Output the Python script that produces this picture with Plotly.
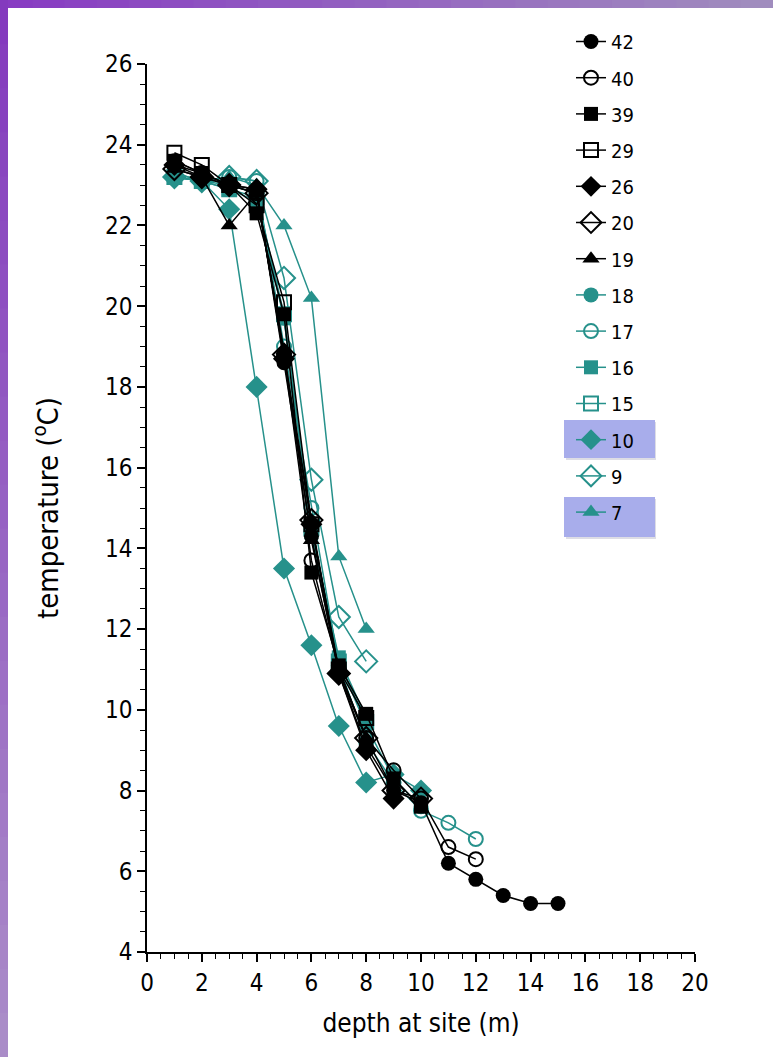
import plotly.graph_objects as go

# ---------------- data ----------------
names = ["42", "40", "39", "29", "26", "20", "19", "18", "17", "16", "15", "10", "9", "7"]

d42 = [1, 2, 3, 4, 5, 6, 7, 8, 9, 10, 11, 12, 13, 14, 15]
t42 = [23.6, 23.3, 23.0, 22.9, 18.6, 14.3, 10.9, 9.1, 8.0, 7.7, 6.2, 5.8, 5.4, 5.2, 5.2]
d40 = [1, 2, 3, 4, 5, 6, 7, 8, 9, 10, 11, 12]
t40 = [23.5, 23.3, 23.0, 22.8, 18.8, 13.7, 11.0, 9.3, 8.5, 7.8, 6.6, 6.3]
d39 = [1, 2, 3, 4, 5, 6, 7, 8, 9, 10]
t39 = [23.6, 23.3, 23.0, 22.3, 19.8, 13.4, 11.1, 9.9, 8.3, 7.6]
d29 = [1, 2, 3, 4, 5, 6, 7, 8]
t29 = [23.8, 23.5, 23.0, 22.5, 20.1, 14.6, 11.0, 9.8]
d26 = [1, 2, 3, 4, 5, 6, 7, 8, 9]
t26 = [23.5, 23.2, 23.0, 22.9, 18.7, 14.6, 10.9, 9.0, 7.8]
d20 = [1, 2, 3, 4, 5, 6, 7, 8, 9, 10]
t20 = [23.4, 23.2, 23.0, 22.8, 18.8, 14.7, 10.9, 9.3, 8.0, 7.8]
d19 = [1, 2, 3, 4, 5, 6, 7, 8]
t19 = [23.4, 23.2, 22.0, 22.8, 18.9, 14.2, 11.0, 9.3]
d18 = [1, 2, 3, 4, 5, 6, 7, 8, 9, 10]
t18 = [23.3, 23.1, 23.0, 22.8, 19.7, 14.4, 11.2, 9.6, 8.3, 7.6]
d17 = [1, 2, 3, 4, 5, 6, 7, 8, 9, 10, 11, 12]
t17 = [23.3, 23.1, 23.2, 23.1, 19.0, 15.0, 11.1, 9.2, 8.2, 7.5, 7.2, 6.8]
d16 = [1, 2, 3, 4, 5, 6, 7, 8]
t16 = [23.2, 23.1, 22.9, 22.6, 19.7, 14.4, 11.3, 9.8]
d15 = [1, 2, 3, 4, 5, 6, 7, 8]
t15 = [23.2, 23.1, 22.9, 22.7, 19.8, 14.5, 11.2, 9.7]
d10 = [1, 2, 3, 4, 5, 6, 7, 8, 9, 10]
t10 = [23.2, 23.1, 22.4, 18.0, 13.5, 11.6, 9.6, 8.2, 8.4, 8.0]
d9 = [1, 2, 3, 4, 5, 6, 7, 8]
t9 = [23.2, 23.1, 23.2, 23.1, 20.7, 15.7, 12.3, 11.2]
d7 = [1, 2, 3, 4, 5, 6, 7, 8]
t7 = [23.2, 23.1, 23.2, 23.0, 22.0, 20.2, 13.8, 12.0]

depths = [d42, d40, d39, d29, d26, d20, d19, d18, d17, d16, d15, d10, d9, d7]
temps = [t42, t40, t39, t29, t26, t20, t19, t18, t17, t16, t15, t10, t9, t7]

x_ticks = list(range(0, 21, 2))
y_ticks = list(range(4, 27, 2))

# ---------------- styles ----------------
BLACK = "#000000"
TEAL = "#26918b"
symbols = ["circle", "circle-open", "square", "square-open", "diamond", "diamond-open", "triangle-up"] * 2
colors = [BLACK] * 7 + [TEAL] * 7
sizes = {"circle": 15, "circle-open": 14, "square": 14, "square-open": 14,
         "diamond": 17, "diamond-open": 17, "triangle-up": 15}
FONT = "Liberation Sans Narrow, DejaVu Sans Condensed, Liberation Sans, Arial, sans-serif"

traces = []
for i in range(len(names)):
    sym = symbols[i]
    traces.append(go.Scatter(
        x=depths[i], y=temps[i], name=names[i], mode="lines+markers",
        legendgroup=names[i], legendrank=i + 1,
        line=dict(color=colors[i], width=1.5),
        marker=dict(symbol=sym, size=sizes[sym], color=colors[i],
                    line=dict(color=colors[i], width=2 if "open" in sym else 0)),
    ))
# teal drawn first, black on top
fig = go.Figure(data=traces[7:][::-1] + traces[:7][::-1])

# plot-area pixel geometry
L, R, T, B = 147, 695, 64, 952
W, H = 773, 1057
def px(x):
    return (x - L) / (R - L)
def py(y):
    return (B - y) / (B - T)

shapes = []
# highlight boxes behind legend rows "10" and "7"
for (y0, y1) in [(420, 458), (497, 537)]:
    shapes.append(dict(type="rect", xref="paper", yref="paper", layer="below",
                       x0=px(566), x1=px(656), y0=py(y1 + 2), y1=py(y0 + 2),
                       fillcolor="rgba(120,120,150,0.25)", line=dict(width=0)))
    shapes.append(dict(type="rect", xref="paper", yref="paper", layer="below",
                       x0=px(564), x1=px(655), y0=py(y1), y1=py(y0),
                       fillcolor="#a8adeb", line=dict(width=0)))

# purple window frame (top and left bands with gradient)
def lerp(c1, c2, f):
    return "rgb(%d,%d,%d)" % tuple(round(a + (b - a) * f) for a, b in zip(c1, c2))
n = 24
top_a, top_b = (136, 60, 194), (160, 140, 190)
for k in range(n):
    x0 = W * k / n
    x1 = W * (k + 1) / n + 1
    shapes.append(dict(type="rect", xref="paper", yref="paper", layer="above",
                       x0=px(x0), x1=px(x1), y0=py(8), y1=py(-2),
                       fillcolor=lerp(top_a, top_b, k / (n - 1)), line=dict(width=0)))
left_a, left_b = (132, 58, 190), (170, 140, 200)
for k in range(n):
    y0 = H * k / n
    y1 = H * (k + 1) / n + 1
    shapes.append(dict(type="rect", xref="paper", yref="paper", layer="above",
                       x0=px(-2), x1=px(8), y0=py(y1), y1=py(max(y0, 0)),
                       fillcolor=lerp(left_a, left_b, k / (n - 1)), line=dict(width=0)))

axis_common = dict(
    showline=True, linecolor="black", linewidth=1.5, mirror=False,
    ticks="outside", ticklen=8, tickwidth=1.5, tickcolor="black",
    showgrid=False, zeroline=False,
    tickfont=dict(family=FONT, size=24, color="black"),
    minor=dict(ticks="outside", ticklen=5, tickwidth=1.2, tickcolor="black", dtick=0.5, showgrid=False),
)

fig.update_layout(
    width=W, height=H,
    margin=dict(l=L, r=W - R, t=T, b=H - B, autoexpand=False),
    paper_bgcolor="white", plot_bgcolor="white",
    font=dict(family=FONT, color="black"),
    showlegend=True,
    legend=dict(x=px(571), y=py(22), xanchor="left", yanchor="top",
                bgcolor="rgba(0,0,0,0)", font=dict(family=FONT, size=20, color="black"),
                tracegroupgap=7.2, traceorder="grouped", itemwidth=30),
    xaxis=dict(range=[0, 20], tickvals=x_ticks, ticktext=[str(v) for v in x_ticks],
               title=dict(text="depth at site (m)", font=dict(family=FONT, size=26), standoff=18),
               **axis_common),
    yaxis=dict(range=[4, 26], tickvals=y_ticks, ticktext=[str(v) for v in y_ticks],
               title=dict(text="temperature (<sup>o</sup>C)", font=dict(family=FONT, size=29), standoff=38),
               **axis_common),
    shapes=shapes,
)

fig.write_html("out.html", config={"displayModeBar": False},
               post_script="document.body.style.margin='0';document.body.style.overflow='hidden';")
